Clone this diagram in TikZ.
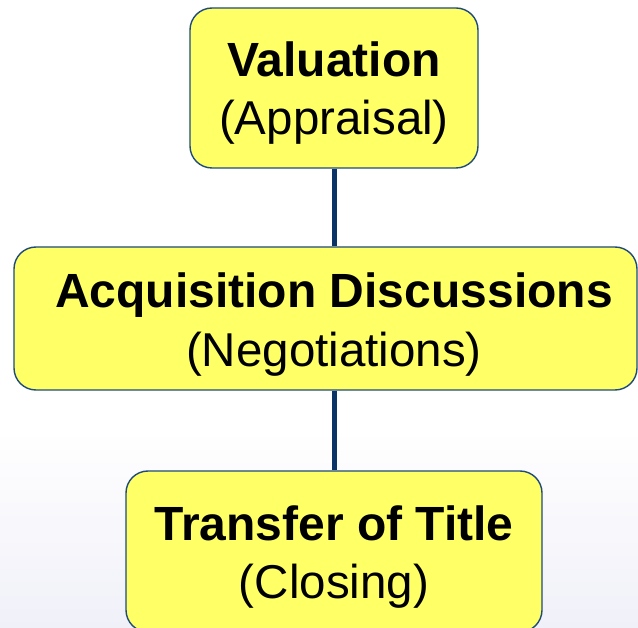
\documentclass[tikz,border=0pt]{standalone}
\usepackage{fontspec}
\setmainfont{Liberation Sans}
\begin{document}
\definecolor{boxfill}{HTML}{FFFF66}
\definecolor{boxedge}{HTML}{1F4A7A}
\definecolor{linkcol}{HTML}{0A3366}
\definecolor{bgbottom}{HTML}{F0F0F9}
\begin{tikzpicture}[x=1pt,y=-1pt,
  stagebox/.style={draw=boxedge,line width=1.4pt,fill=boxfill,rounded corners=22pt,inner sep=0pt},
  headline/.style={anchor=base,inner sep=0pt,font=\fontsize{48}{58}\selectfont\bfseries},
  subline/.style={anchor=base,inner sep=0pt,font=\fontsize{47.5}{58}\selectfont},
  link/.style={draw=linkcol,line width=5pt}]
  % page area with a soft tint toward the bottom
  \useasboundingbox (0,0) rectangle (638,628);
  \fill[white] (0,0) rectangle (638,430);
  \shade[top color=white,bottom color=bgbottom] (0,430) rectangle (638,628);
  \begin{scope}
  \clip (0,0) rectangle (638,628);
  % stage boxes
  \node[stagebox,minimum width=288pt,minimum height=160pt] (val) at (334,88) {};
  \node[stagebox,minimum width=623pt,minimum height=143pt] (acq) at (325.5,318.5) {};
  \node[stagebox,minimum width=416pt,minimum height=161pt] (tra) at (334,551.5) {};
  % connectors
  \draw[link] (val.south) -- (val.south |- acq.north);
  \draw[link] (acq.south -| val.south) -- (tra.north);
  \end{scope}
  % labels
  \node[headline] (valA) at (334,77) {Valuation};
  \node[subline]  (valB) at (334,135) {(Appraisal)};
  \node[headline] (acqA) at (334,308) {Acquisition Discussions};
  \node[subline]  (acqB) at (334,367) {(Negotiations)};
  \node[headline] (traA) at (334,540) {Transfer of Title};
  \node[subline]  (traB) at (334,598) {(Closing)};
\end{tikzpicture}
\end{document}
